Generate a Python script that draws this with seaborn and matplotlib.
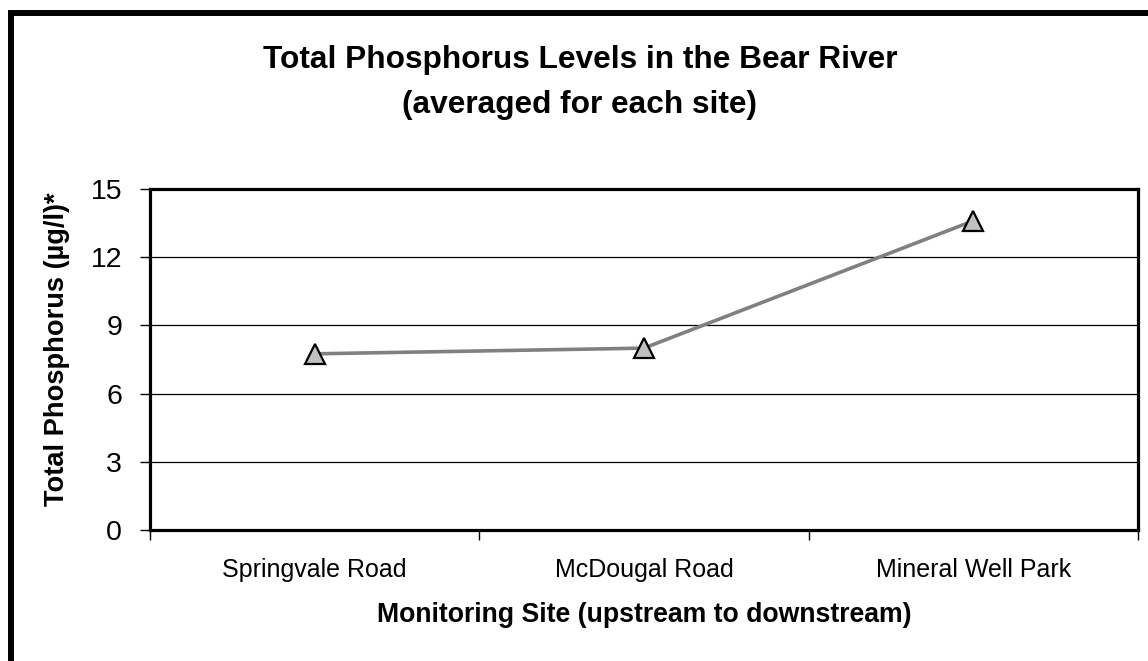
import numpy as np
import pandas as pd
import seaborn as sns
import matplotlib.pyplot as plt
from matplotlib.patches import Rectangle

# Values
sites = ["Springvale Road", "McDougal Road", "Mineral Well Park"]
phosphorus = [7.75, 8.0, 13.6]
y_ticks = [0, 3, 6, 9, 12, 15]

df = pd.DataFrame({"site": sites, "tp": phosphorus})

sns.set_theme(style="white")
plt.rcParams["font.family"] = ["Liberation Sans", "DejaVu Sans"]
for key in ["text.color", "axes.labelcolor", "xtick.color", "ytick.color"]:
    plt.rcParams[key] = "black"

W, H = 1148, 661
fig = plt.figure(figsize=(W / 100, H / 100), dpi=100)
ax = fig.add_axes([150 / W, 1 - 530 / H, (1138 - 150) / W, (530 - 189) / H])

sns.lineplot(data=df, x="site", y="tp", ax=ax, color="#808080", linewidth=2.6,
             marker="^", markersize=15, markerfacecolor="#C0C0C0",
             markeredgecolor="black", markeredgewidth=1.6, sort=False)

ax.set_xlim(-0.5, 2.5)
ax.set_ylim(0, 15)
ax.set_yticks(y_ticks)
ax.yaxis.grid(True, color="black", linewidth=0.9)
ax.set_axisbelow(True)

# category labels centred, tick marks on the boundaries
ax.set_xticks(range(len(sites)))
ax.set_xticklabels(sites, fontsize=18)
ax.tick_params(axis="x", which="major", length=0, pad=20)
ax.set_xticks(np.arange(-0.5, 3, 1), minor=True)
ax.tick_params(axis="x", which="minor", bottom=True, length=7, width=1, color="black", direction="out")
ax.tick_params(axis="y", left=True, length=7, width=1, color="black", direction="out", labelsize=20.5, pad=13)

for sp in ax.spines.values():
    sp.set_color("black")
    sp.set_linewidth(2.3)

ax.set_xlabel("Monitoring Site (upstream to downstream)", fontsize=19.2, fontweight="bold")
ax.xaxis.set_label_coords(0.5, -0.21)
ax.set_ylabel("Total Phosphorus (µg/l)*", fontsize=19.6, fontweight="bold")
ax.yaxis.set_label_coords(-0.081, 0.53)

fig.text(580 / W, 1 - 68 / H, "Total Phosphorus Levels in the Bear River",
         ha="center", va="baseline", fontsize=22.8, fontweight="bold")
fig.text(580 / W, 1 - 113 / H, "(averaged for each site)",
         ha="center", va="baseline", fontsize=22.8, fontweight="bold")

# outer frame of the figure box (cut off on the right and bottom)
fig.patches.append(Rectangle((10.5 / W, -0.1), 1.2, 1 - 13 / H + 0.1, transform=fig.transFigure,
                             fill=False, edgecolor="black", linewidth=4.3))

fig.savefig("out.png", dpi=100)
